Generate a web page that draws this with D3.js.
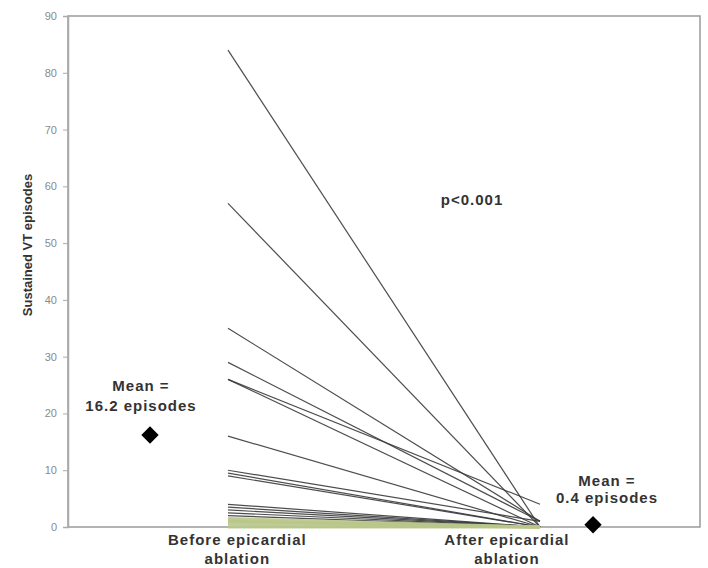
<!DOCTYPE html>
<html>
<head>
<meta charset="utf-8">
<script src="https://cdn.jsdelivr.net/npm/d3@7"></script>
<style>
  body { margin: 0; background: #fff; }
  text { font-family: "Liberation Sans", Arial, sans-serif; }
</style>
</head>
<body>
<svg width="708" height="568"></svg>
<script>
// patient episodes, before and after epicardial ablation
var before = [84, 57, 35, 29, 26, 26, 16, 10, 9.5, 9, 4, 3.5, 3, 2.5, 2, 1.5, 1, 1, 0.5, 0];
var after  = [0, 0, 1, 1, 4, 0, 0, 1, 0, 0, 0, 0, 0, 0, 0, 0, 0, 0, 0, 0];
var meanBefore = 16.2, meanAfter = 0.4;
var yTicks = [0, 10, 20, 30, 40, 50, 60, 70, 80, 90];
var catLabels = [["Before epicardial", "ablation"], ["After epicardial", "ablation"]];

var svg = d3.select("svg");
var plotL = 68, plotR = 700, plotT = 16, plotB = 527;

var y = d3.scaleLinear().domain([0, 90]).range([plotB, plotT]);
// 0 = before, 1 = after
var x = d3.scaleLinear().domain([0, 1]).range([228, 540]);

// frame
svg.append("rect")
    .attr("x", plotL).attr("y", plotT)
    .attr("width", plotR - plotL).attr("height", plotB - plotT)
    .attr("fill", "none")
    .attr("stroke", "#9a9a9a")
    .attr("stroke-width", 1.5);

var yAxis = svg.append("g")
    .attr("transform", "translate(" + plotL + ",0)")
    .call(d3.axisLeft(y).tickValues(yTicks).tickSize(5).tickPadding(6));
yAxis.select(".domain").attr("stroke", "#aaa").attr("stroke-width", 1.5);
yAxis.selectAll(".tick line").attr("stroke", "#aaa");
yAxis.selectAll(".tick text")
    .attr("fill", "#8a8a8a")
    .style("font-size", "11px");

svg.append("text")
    .attr("transform", "translate(32," + 245 + ") rotate(-90)")
    .attr("text-anchor", "middle")
    .attr("fill", "#333")
    .style("font-size", "13px")
    .style("font-weight", "bold")
    .text("Sustained VT episodes");

// patient lines
var pts = before.map(function (b, i) { return {b: b, a: after[i]}; });

svg.append("g")
    .selectAll("line")
    .data(pts)
    .enter()
    .append("line")
    .attr("x1", x(0))
    .attr("x2", x(1))
    .attr("y1", d => y(d.b))
    .attr("y2", d => y(d.a))
    .attr("stroke", d => d.b <= 1.5 ? "#b9c68a" : "#3a3a3a")
    .attr("stroke-width", d => d.b <= 1.5 ? 3 : 1.2)
    .attr("stroke-opacity", 0.9);

// mean markers
var means = [{pos: -0.25, v: meanBefore}, {pos: 1.17, v: meanAfter}];
svg.append("g")
    .selectAll("path")
    .data(means)
    .enter()
    .append("path")
    .attr("d", d3.symbol().type(d3.symbolSquare).size(150))
    .attr("transform", d => "translate(" + x(d.pos) + "," + y(d.v) + ") rotate(45)")
    .attr("fill", "#000");

function label(lines, cx, cy, size, lh) {
    var t = svg.append("text")
        .attr("text-anchor", "middle")
        .attr("fill", "#333")
        .style("font-size", size + "px")
        .style("font-weight", "bold")
        .style("letter-spacing", "1px");
    lines.forEach(function (s, i) {
        t.append("tspan").attr("x", cx).attr("y", cy + i * lh).text(s);
    });
}

label(["Mean =", meanBefore + " episodes"], 141, 391, 15, 20);
label(["Mean =", meanAfter + " episodes"], 607, 486, 15, 17);
label(["p<0.001"], 472, 205, 15, 0);

label(catLabels[0], x(0.03), 545, 15, 19);
label(catLabels[1], x(0.894), 545, 15, 19);
</script>
</body>
</html>
